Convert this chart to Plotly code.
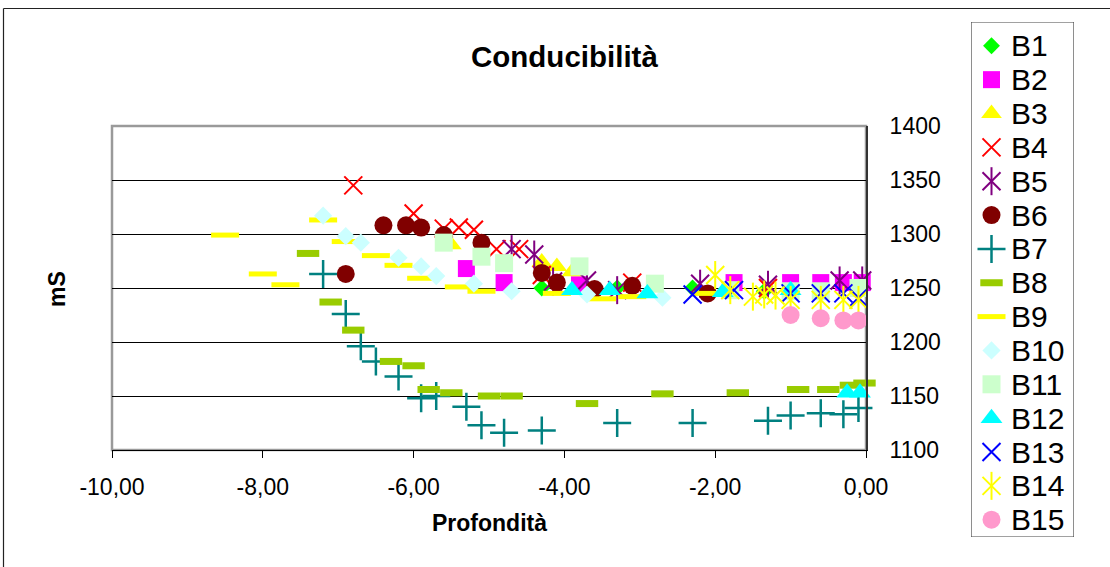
import plotly.graph_objects as go

W, H = 1110, 567

# ---------------- data ----------------
series_names = ["B1", "B2", "B3", "B4", "B5", "B6", "B7", "B8", "B9", "B10",
                "B11", "B12", "B13", "B14", "B15"]

b1_x = [-4.3, -3.3, -2.3, -1.35]
b1_y = [1250, 1250, 1250, 1247]
b2_x = [-5.3, -4.8, -3.8, -1.75, -1.0, -0.6, -0.3, -0.05]
b2_y = [1268, 1255, 1253, 1255, 1255, 1255, 1255, 1255]
b3_x = [-5.5, -4.3, -4.1, -3.9]
b3_y = [1290, 1274, 1270, 1265]
b4_x = [-6.8, -6.0, -5.6, -5.4, -5.2, -4.9, -4.6, -4.3, -3.1, -1.3]
b4_y = [1345, 1319, 1305, 1306, 1304, 1286, 1286, 1262, 1255, 1250]
b5_x = [-4.7, -4.4, -4.15, -3.7, -3.3, -2.2, -1.3, -0.35, -0.05]
b5_y = [1286, 1281, 1256, 1257, 1248, 1254, 1253, 1257, 1257]
b6_x = [-6.9, -6.4, -6.1, -5.9, -5.6, -5.1, -4.3, -4.1, -3.6, -3.1, -2.1]
b6_y = [1263, 1308, 1308, 1306, 1299, 1292, 1264, 1255, 1249, 1252, 1245]
b7_x = [-7.2, -6.9, -6.7, -6.5, -6.2, -5.9, -5.7, -5.3, -5.1, -4.8, -4.3,
        -3.3, -2.3, -1.3, -1.0, -0.6, -0.3, -0.1]
b7_y = [1263, 1226, 1196, 1182, 1168, 1148, 1150, 1140, 1123, 1116, 1118,
        1125, 1125, 1127, 1132, 1134, 1133, 1139]
b8_x = [-7.4, -7.1, -6.8, -6.3, -6.0, -5.8, -5.5, -5.0, -4.7, -3.7, -2.7,
        -1.7, -0.9, -0.5, -0.2, -0.02]
b8_y = [1282, 1237, 1211, 1182, 1178, 1156, 1153, 1150, 1150, 1143, 1152,
        1153, 1156, 1156, 1160, 1162]
b9_x = [-8.5, -8.0, -7.7, -7.2, -6.9, -6.5, -6.2, -5.9, -5.4, -5.1, -4.1,
        -3.5, -3.1, -2.1]
b9_y = [1299, 1263, 1253, 1313, 1293, 1280, 1271, 1259, 1251, 1247, 1245,
        1240, 1242, 1245]
b10_x = [-7.2, -6.9, -6.7, -6.2, -5.9, -5.7, -5.2, -4.7, -3.7, -2.7]
b10_y = [1317, 1298, 1292, 1278, 1270, 1261, 1254, 1247, 1244, 1241]
b11_x = [-5.6, -5.1, -4.8, -3.8, -2.8, -1.8, -1.0, -0.6, -0.1]
b11_y = [1292, 1279, 1273, 1270, 1254, 1248, 1247, 1247, 1250]
b12_x = [-3.9, -3.4, -2.9, -1.9, -1.0, -0.25, -0.08]
b12_y = [1248, 1248, 1245, 1246, 1248, 1153, 1153]
b13_x = [-2.3, -1.75, -1.0, -0.6, -0.3, -0.1]
b13_y = [1244, 1248, 1245, 1245, 1245, 1241]
b14_x = [-2.0, -1.8, -1.5, -1.35, -1.2, -1.0, -0.6, -0.3, -0.1]
b14_y = [1262, 1248, 1242, 1244, 1243, 1239, 1239, 1239, 1239]
b15_x = [-1.0, -0.6, -0.3, -0.1]
b15_y = [1225, 1222, 1220, 1220]

x_tick_vals = [-10, -8, -6, -4, -2, 0]
x_tick_text = ["-10,00", "-8,00", "-6,00", "-4,00", "-2,00", "0,00"]
y_tick_vals = [1100, 1150, 1200, 1250, 1300, 1350, 1400]

chart_title = "Conducibilità"
x_title = "Profondità"
y_title = "mS"

xs = [b1_x, b2_x, b3_x, b4_x, b5_x, b6_x, b7_x, b8_x, b9_x, b10_x,
      b11_x, b12_x, b13_x, b14_x, b15_x]
ys = [b1_y, b2_y, b3_y, b4_y, b5_y, b6_y, b7_y, b8_y, b9_y, b10_y,
      b11_y, b12_y, b13_y, b14_y, b15_y]

# ---------------- styles ----------------
def filled(sym, color, size):
    return [dict(symbol=sym, size=size, color=color, line=dict(width=0))]

def lined(sym, color, size, lw):
    return [dict(symbol=sym, size=size, color=color, line=dict(color=color, width=lw))]

styles = [
    filled("diamond", "#00FF00", 13),
    filled("square", "#FF00FF", 17),
    filled("triangle-up", "#FFFF00", 18),
    lined("x-thin", "#FF0000", 18, 2),
    lined("x-thin", "#800080", 18, 2) + lined("line-ns", "#800080", 20, 2),
    filled("circle", "#800000", 18),
    lined("cross-thin", "#008080", 20, 2.5),
    lined("line-ew", "#99CC00", 16, 7),
    lined("line-ew", "#FFFF00", 20, 5),
    filled("diamond", "#CCFFFF", 14),
    filled("square", "#CCFFCC", 18),
    filled("triangle-up", "#00FFFF", 19),
    lined("x-thin", "#0000FF", 18, 2),
    lined("x-thin", "#FFFF00", 18, 2) + lined("line-ns", "#FFFF00", 20, 2),
    filled("circle", "#FF99CC", 18),
]

FONT = "Liberation Sans, Arial, sans-serif"

# pixel layout
PL, PR, PT, PB = 112, 866, 126, 450          # plot area
LL, LR, LT, LB = 971, 1074, 22, 537           # legend box

fig = go.Figure()

for name, x, y, sty in zip(series_names, xs, ys, styles):
    for k, m in enumerate(sty):
        fig.add_trace(go.Scatter(
            x=x, y=y, mode="markers", name=name, marker=m,
            showlegend=False, cliponaxis=False, hoverinfo="x+y+name",
            xaxis="x", yaxis="y"))

# custom legend (pixel coordinates on axes x2/y2)
leg_y0 = 45.8
leg_dy = 33.85
for i, (name, sty) in enumerate(zip(series_names, styles)):
    yy = leg_y0 + leg_dy * i
    for m in sty:
        fig.add_trace(go.Scatter(
            x=[991.5], y=[yy], mode="markers", marker=m, showlegend=False,
            cliponaxis=False, hoverinfo="skip", xaxis="x2", yaxis="y2"))
    fig.add_annotation(x=1009, y=yy, xref="x2", yref="y2", text=name,
                       showarrow=False, xanchor="left", yanchor="middle",
                       font=dict(family=FONT, size=30, color="black"))

fig.add_shape(type="rect", xref="x2", yref="y2", x0=LL, x1=LR, y0=LT, y1=LB,
              line=dict(color="#444444", width=1.2), layer="below")

# outer chart frame (left and top edges visible)
fig.add_shape(type="line", xref="paper", yref="paper",
              x0=3.5 / W, x1=3.5 / W, y0=1 - 8.5 / H, y1=0,
              line=dict(color="#222222", width=1.2), layer="below")
fig.add_shape(type="line", xref="paper", yref="paper",
              x0=3.5 / W, x1=1, y0=1 - 8.5 / H, y1=1 - 8.5 / H,
              line=dict(color="#222222", width=1.2), layer="below")

# plot area border
fig.add_shape(type="rect", xref="paper", yref="paper",
              x0=PL / W, x1=PR / W, y0=1 - PT / H, y1=1 - PB / H,
              line=dict(color="#9a9a9a", width=2.5), layer="below")

# titles
fig.add_annotation(x=564.5 / W, y=1 - 57 / H, xref="paper", yref="paper",
                   text=chart_title, showarrow=False,
                   xanchor="center", yanchor="middle",
                   font=dict(family=FONT, size=29.5, color="black", weight="bold"))
fig.add_annotation(x=489 / W, y=1 - 523 / H, xref="paper", yref="paper",
                   text=x_title, showarrow=False,
                   xanchor="center", yanchor="middle",
                   font=dict(family=FONT, size=23, color="black", weight="bold"))
fig.add_annotation(x=57 / W, y=1 - 289 / H, xref="paper", yref="paper",
                   text=y_title, showarrow=False, textangle=-90,
                   xanchor="center", yanchor="middle",
                   font=dict(family=FONT, size=23, color="black", weight="bold"))

fig.update_layout(
    width=W, height=H,
    margin=dict(l=0, r=0, t=0, b=0, pad=0),
    paper_bgcolor="white", plot_bgcolor="white",
    showlegend=False,
    font=dict(family=FONT, size=23, color="black"),
    xaxis=dict(domain=[PL / W, PR / W], range=[-10, 0], showgrid=False,
               zeroline=False, tickmode="array", tickvals=x_tick_vals,
               ticktext=x_tick_text, ticks="outside", ticklen=7,
               tickcolor="black", tickwidth=1, showline=True,
               linecolor="black", linewidth=1, ticklabelstandoff=9,
               tickfont=dict(family=FONT, size=23), fixedrange=True,
               automargin=False),
    yaxis=dict(domain=[1 - PB / H, 1 - PT / H], range=[1100, 1400],
               side="right", tickmode="array", tickvals=y_tick_vals,
               showgrid=True, gridcolor="black", gridwidth=1, zeroline=False,
               ticks="", showline=True, linecolor="#333333", linewidth=2,
               ticklabelstandoff=17, tickfont=dict(family=FONT, size=23),
               fixedrange=True, automargin=False),
    xaxis2=dict(domain=[LL / W, LR / W], range=[LL, LR], visible=False,
                fixedrange=True),
    yaxis2=dict(domain=[1 - LB / H, 1 - LT / H], range=[LB, LT], visible=False,
                fixedrange=True),
)

fig.write_html("out.html")
